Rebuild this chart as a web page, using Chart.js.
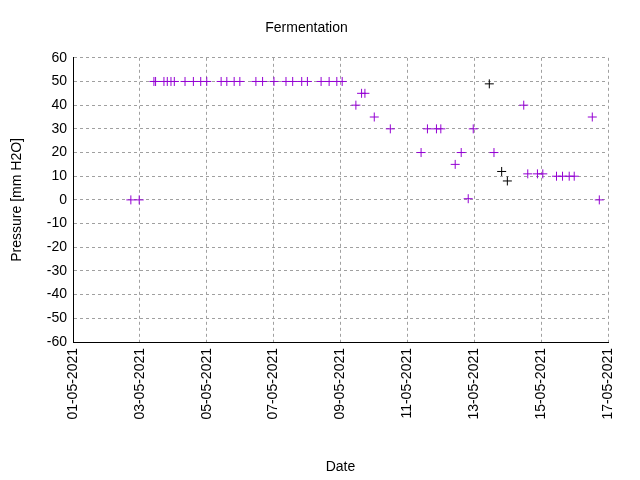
<!DOCTYPE html>
<html><head><script src="https://cdn.jsdelivr.net/npm/chart.js"></script>
<style>html,body{margin:0;background:#fff}</style></head>
<body><canvas id="c" width="640" height="480"></canvas>
<script>
const dayOffsets=[1.73,1.98,2.42,2.47,2.72,2.82,2.93,3.03,3.35,3.60,3.82,4.00,4.43,4.60,4.82,4.99,5.47,5.67,6.01,6.37,6.57,6.84,7.01,7.42,7.66,7.89,8.05,8.46,8.63,8.73,9.01,9.49,10.41,10.60,10.87,11.00,11.43,11.61,11.82,11.97,12.59,13.48,13.60,13.89,14.05,14.46,14.64,14.84,14.99,15.53,15.74];
const pressure=[0,0,50,50,50,50,50,50,50,50,50,50,50,50,50,50,50,50,50,50,50,50,50,50,50,50,50,40,45,45,35,30,20,30,30,30,15,20,0.5,30,20,40,11,11,11,10,10,10,10,35,0];
const blackDays=[12.45,12.82,12.99];
const blackPressure=[49,12,8];
const tickLabels=['01-05-2021','03-05-2021','05-05-2021','07-05-2021','09-05-2021','11-05-2021','13-05-2021','15-05-2021','17-05-2021'];
Chart.defaults.font.family='Liberation Sans';
Chart.defaults.color='#000';
const grid={color:'#a0a0a0',drawTicks:false};
new Chart(document.getElementById('c'),{type:'scatter',
data:{datasets:[
{data:dayOffsets.map((x,i)=>({x,y:pressure[i]})),pointStyle:'cross',radius:4.5,borderColor:'#9400d3',borderWidth:1,backgroundColor:'#9400d3'},
{data:blackDays.map((x,i)=>({x,y:blackPressure[i]})),pointStyle:'cross',radius:4.5,borderColor:'#000',borderWidth:1}
]},
options:{responsive:false,animation:false,events:[],
layout:{padding:{left:5,right:32,top:0,bottom:0}},
plugins:{legend:{display:false},tooltip:{enabled:false},
title:{display:true,text:'Fermentation',font:{size:14,weight:'normal'},color:'#000',padding:{top:20,bottom:21}}},
scales:{
x:{type:'linear',min:0,max:16,grid:grid,border:{color:'#000',dash:[3,3]},
ticks:{stepSize:2,maxRotation:90,minRotation:90,padding:6,font:{size:14},callback:(v)=>tickLabels[v/2]},
title:{display:true,text:'Date',font:{size:14},padding:{top:18,bottom:4}},
afterFit:s=>{s.height=138}},
y:{min:-60,max:60,grid:grid,border:{color:'#000',dash:[3,3]},
ticks:{stepSize:10,padding:6,font:{size:14}},
title:{display:true,text:'Pressure [mm H2O]',font:{size:14},padding:{bottom:2}},
afterFit:s=>{s.width=68}}
}}});
</script></body></html>
